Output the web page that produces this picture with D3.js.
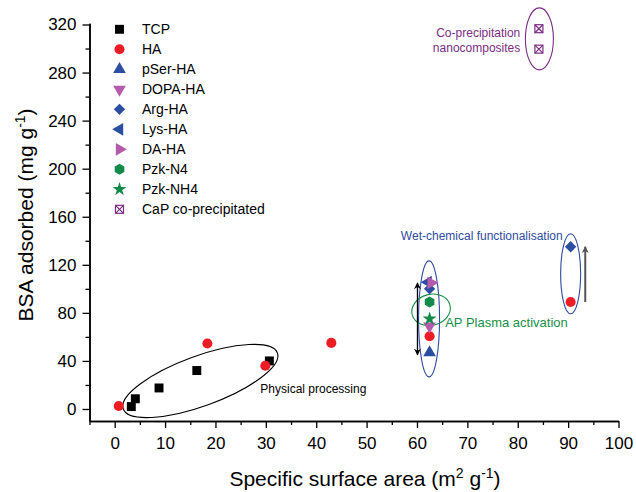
<!DOCTYPE html>
<html>
<head>
<meta charset="utf-8">
<script src="https://cdn.jsdelivr.net/npm/d3@7"></script>
<style>
  body { margin: 0; background: #fff; }
  svg { font-family: "Liberation Sans", Arial, sans-serif; }
</style>
</head>
<body>
<div id="chart"></div>
<script>
// Data: [surface area, BSA adsorbed]
var tcp = [[3.3, 2], [4.1, 8.5], [8.8, 17.5], [16.3, 32], [30.7, 40]];
var ha = [[0.8, 2.5], [18.4, 54.5], [29.9, 36], [43, 55], [62.5, 60.5], [90.5, 89]];
var pser = [[62.5, 47]];
var dopa = [[62.5, 69]];
var arg = [[62.5, 100], [90.5, 135]];
var lys = [[62.2, 105.5]];
var da = [[62.8, 105]];
var pzkN4 = [[62.5, 89]];
var pzkNH4 = [[62.5, 75]];
var cap = [[84.2, 316.5], [84.2, 299.5]];

var seriesNames = ["TCP", "HA", "pSer-HA", "DOPA-HA", "Arg-HA", "Lys-HA", "DA-HA", "Pzk-N4", "Pzk-NH4", "CaP co-precipitated"];
var seriesData = [tcp, ha, pser, dopa, arg, lys, da, pzkN4, pzkNH4, cap];

var xMajor = [0, 10, 20, 30, 40, 50, 60, 70, 80, 90, 100];
var xMinor = [-5, 5, 15, 25, 35, 45, 55, 65, 75, 85, 95];
var yMajor = [0, 40, 80, 120, 160, 200, 240, 280, 320];
var yMinor = [20, 60, 100, 140, 180, 220, 260, 300];

// custom hexagon symbol
var symbolHexagon = {
    draw: function(context, size) {
        var r = Math.sqrt(size / (1.5 * Math.sqrt(3)));
        for (var i = 0; i < 6; i++) {
            var a = Math.PI / 6 + i * Math.PI / 3;
            if (i === 0) context.moveTo(r * Math.cos(a), r * Math.sin(a));
            else context.lineTo(r * Math.cos(a), r * Math.sin(a));
        }
        context.closePath();
    }
};

var styles = [
    { type: d3.symbolSquare, size: 80, rot: 0, fill: "#000" },
    { type: d3.symbolCircle, size: 80, rot: 0, fill: "#ee1c25" },
    { type: d3.symbolTriangle, size: 70, rot: 0, fill: "#2b4ea2" },
    { type: d3.symbolTriangle, size: 70, rot: 180, fill: "#b45bab" },
    { type: d3.symbolSquare, size: 64, rot: 45, fill: "#2b4ea2" },
    { type: d3.symbolTriangle, size: 70, rot: -90, fill: "#2b4ea2" },
    { type: d3.symbolTriangle, size: 70, rot: 90, fill: "#b45bab" },
    { type: symbolHexagon, size: 80, rot: 0, fill: "#128a4a" },
    { type: d3.symbolStar, size: 60, rot: 0, fill: "#128a4a" },
    { type: "cap", size: 64, rot: 0, fill: "#fff" }
];

var W = 636, H = 492;
var svg = d3.select("#chart").append("svg")
    .attr("width", W)
    .attr("height", H);

var x = d3.scaleLinear().domain([-5, 100]).range([89.5, 618.5]);
var y = d3.scaleLinear().domain([-10, 321]).range([421, 23.3]);

// Axes
var xAxis = svg.append("g")
    .attr("transform", "translate(0,421)")
    .call(d3.axisBottom(x).tickValues(xMajor).tickSize(7).tickSizeOuter(0).tickPadding(9));
svg.append("g")
    .attr("transform", "translate(0,421)")
    .call(d3.axisBottom(x).tickValues(xMinor).tickSize(4).tickSizeOuter(0).tickFormat(""));

var yAxis = svg.append("g")
    .attr("transform", "translate(89.5,0)")
    .call(d3.axisLeft(y).tickValues(yMajor).tickSize(7).tickSizeOuter(0).tickPadding(6));
svg.append("g")
    .attr("transform", "translate(89.5,0)")
    .call(d3.axisLeft(y).tickValues(yMinor).tickSize(4).tickSizeOuter(0).tickFormat(""));

svg.selectAll(".domain").attr("stroke", "#000").attr("stroke-width", 1.5);
svg.selectAll(".tick line").attr("stroke", "#000").attr("stroke-width", 1.3);
svg.selectAll(".tick text").attr("fill", "#000").style("font-size", "17px")
    .style("font-family", "'Liberation Sans', Arial, sans-serif");

// Axis titles
var xt = svg.append("text")
    .attr("x", 365).attr("y", 486)
    .attr("text-anchor", "middle")
    .style("font-size", "21px");
xt.append("tspan").text("Specific surface area (m");
xt.append("tspan").attr("dy", -8).style("font-size", "14px").text("2");
xt.append("tspan").attr("dy", 8).text(" g");
xt.append("tspan").attr("dy", -8).style("font-size", "14px").text("-1");
xt.append("tspan").attr("dy", 8).text(")");

var yt = svg.append("text")
    .attr("transform", "translate(33,215) rotate(-90)")
    .attr("text-anchor", "middle")
    .style("font-size", "21px");
yt.append("tspan").text("BSA adsorbed (mg g");
yt.append("tspan").attr("dy", -8).style("font-size", "14px").text("-1");
yt.append("tspan").attr("dy", 8).text(")");

// Annotations (positions in data units)
var ann = svg.append("g").attr("fill", "none");

function ellipse(cx, cy, rx, ry, rot, color) {
    ann.append("ellipse")
        .attr("cx", 0).attr("cy", 0)
        .attr("rx", rx).attr("ry", ry)
        .attr("transform", "translate(" + x(cx) + "," + y(cy) + ") rotate(" + rot + ")")
        .attr("stroke", color).attr("stroke-width", 1.1);
}
ellipse(17, 23.3, 82, 25, -20, "#000");
ellipse(62.4, 75, 10.5, 58, 0, "#2f4b9f");
ellipse(90.5, 112.5, 10, 40, 0, "#2f4b9f");
ellipse(62.8, 82.5, 19.5, 15.5, -15, "#169048");
ellipse(84.3, 308, 14, 31, 0, "#7b2d83");

// arrows
var defs = svg.append("defs");
function marker(id, color) {
    defs.append("marker").attr("id", id)
        .attr("viewBox", "0 0 10 10").attr("refX", 9).attr("refY", 5)
        .attr("markerWidth", 7).attr("markerHeight", 9)
        .attr("markerUnits", "userSpaceOnUse")
        .attr("orient", "auto-start-reverse")
        .append("path").attr("d", "M0,0 L10,5 L0,10 L3,5 Z").attr("fill", color);
}
marker("ab", "#000");
marker("ag", "#555");
ann.append("line")
    .attr("x1", x(60.1)).attr("x2", x(60.1))
    .attr("y1", y(105)).attr("y2", y(45))
    .attr("stroke", "#000").attr("stroke-width", 1.3)
    .attr("marker-start", "url(#ab)").attr("marker-end", "url(#ab)");
ann.append("line")
    .attr("x1", x(93.4)).attr("x2", x(93.4))
    .attr("y1", y(89)).attr("y2", y(135))
    .attr("stroke", "#555").attr("stroke-width", 2)
    .attr("marker-end", "url(#ag)");

function label(tx, ty, txt, color, size, anchor) {
    svg.append("text")
        .attr("x", x(tx)).attr("y", y(ty))
        .attr("fill", color)
        .attr("text-anchor", anchor || "start")
        .style("font-size", size + "px")
        .text(txt);
}
label(28.9, 13, "Physical processing", "#000", 12);
label(56.8, 141, "Wet-chemical functionalisation", "#2f4b9f", 12);
label(65.6, 68.5, "AP Plasma activation", "#169048", 13);
label(80.5, 309.7, "Co-precipitation", "#7b2d83", 12, "end");
label(80.5, 297.2, "nanocomposites", "#7b2d83", 12, "end");

// Symbols
function drawSymbol(g, st, px, py) {
    if (st.type === "cap") {
        var s = 8;
        var c = g.append("g").attr("transform", "translate(" + px + "," + py + ")")
            .attr("stroke", "#7b2d83").attr("stroke-width", 1.2).attr("fill", "#fff");
        c.append("rect").attr("x", -s / 2).attr("y", -s / 2).attr("width", s).attr("height", s);
        c.append("path").attr("d", "M" + (-s / 2) + "," + (-s / 2) + "L" + (s / 2) + "," + (s / 2) +
            "M" + (s / 2) + "," + (-s / 2) + "L" + (-s / 2) + "," + (s / 2));
        return;
    }
    g.append("path")
        .attr("d", d3.symbol().type(st.type).size(st.size)())
        .attr("transform", "translate(" + px + "," + py + ") rotate(" + st.rot + ")")
        .attr("fill", st.fill);
}

var pts = svg.append("g");
seriesData.forEach(function(arr, i) {
    arr.forEach(function(d) {
        drawSymbol(pts, styles[i], x(d[0]), y(d[1]));
    });
});

// Legend
var lg = svg.append("g");
seriesNames.forEach(function(name, i) {
    var ly = 29.3 + i * 20;
    drawSymbol(lg, styles[i], 119.5, ly);
    lg.append("text").attr("x", 142).attr("y", ly + 5)
        .style("font-size", "14px").attr("fill", "#000").text(name);
});
</script>
</body>
</html>
